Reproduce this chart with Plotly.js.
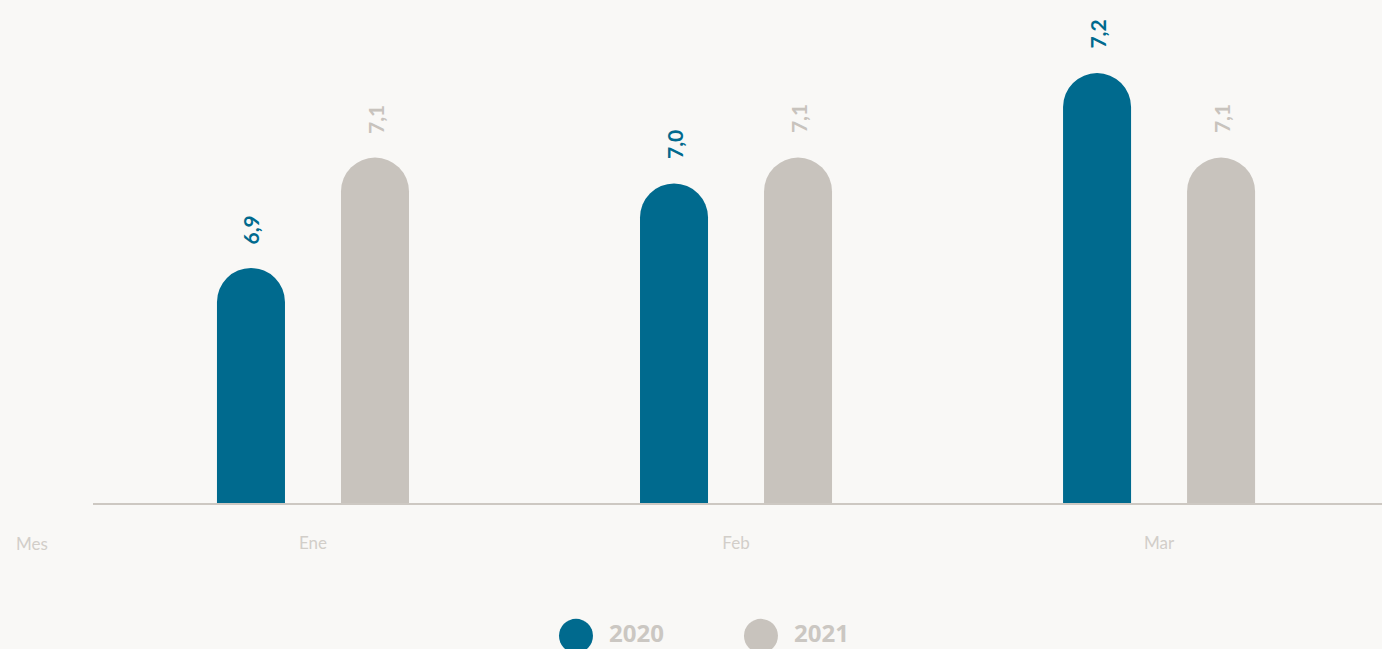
<!DOCTYPE html>
<html>
<head>
<meta charset="utf-8">
<script src="https://cdn.plot.ly/plotly-3.0.1.min.js"></script>
<style>
html,body{margin:0;padding:0;background:#f9f8f6;}
#chart{width:1382px;height:649px;}
</style>
</head>
<body>
<div id="chart"></div>
<script>
// Data
var categories = ["Ene", "Feb", "Mar"];
var seriesNames = ["2020", "2021"];
var values2020 = [6.89, 7.02, 7.19];
var values2021 = [7.06, 7.06, 7.06];
var axisTitle = "Mes";

var colors = ["#006a8e", "#c8c3bd"];
var textGray = "#d2cec9";

function fmt(v){ return v.toFixed(1).replace(".", ","); }

var series = [values2020, values2021];
var traces = series.map(function(vals, i){
  return {
    type: "bar",
    name: seriesNames[i],
    x: categories,
    y: vals,
    marker: {color: colors[i], cornerradius: 34, line: {width: 0}},
    hoverinfo: "x+y+name",
    showlegend: false
  };
});

var annotations = [];
var shifts = [-62, 62];
series.forEach(function(vals, i){
  vals.forEach(function(v, j){
    annotations.push({
      x: categories[j], y: v, xref: "x", yref: "y",
      text: fmt(v), showarrow: false, textangle: -90,
      xanchor: "center", yanchor: "bottom",
      xshift: shifts[i], yshift: 22,
      font: {family: "Lato, 'Open Sans', sans-serif", size: 21, color: colors[i], weight: 700}
    });
  });
});

annotations.push({
  x: -0.0613, y: -0.083, xref: "paper", yref: "paper",
  text: axisTitle, showarrow: false, xanchor: "left", yanchor: "middle",
  font: {family: "Lato, sans-serif", size: 17, color: textGray}
});

// manual legend
var legendX = [0.3747, 0.5182];
var legendY = -0.2671;
var shapes = [];
seriesNames.forEach(function(name, i){
  shapes.push({
    type: "circle", xref: "paper", yref: "paper",
    xsizemode: "pixel", ysizemode: "pixel",
    xanchor: legendX[i], yanchor: legendY - 0.008,
    x0: -17, x1: 17, y0: -17, y1: 17,
    fillcolor: colors[i], line: {width: 0}
  });
  annotations.push({
    x: legendX[i], y: legendY, xref: "paper", yref: "paper",
    xshift: 31, text: name, showarrow: false,
    xanchor: "left", yanchor: "middle",
    font: {family: "'Open Sans', Lato, sans-serif", size: 24, color: "#cbc7c2", weight: 700}
  });
});

var layout = {
  width: 1382, height: 649,
  paper_bgcolor: "#f9f8f6", plot_bgcolor: "#f9f8f6",
  margin: {l: 93, r: 0, t: 20, b: 146},
  barmode: "group",
  bargap: 0.4137,
  bargroupgap: 0.4516,
  showlegend: false,
  xaxis: {
    type: "category",
    range: [-0.52, 2.527],
    showline: true, linecolor: "#cdc8c2", linewidth: 2,
    showgrid: false, zeroline: false, ticks: "",
    ticklabelstandoff: 24,
    tickfont: {family: "Lato, sans-serif", size: 17, color: textGray},
    fixedrange: true
  },
  yaxis: {
    range: [6.5285, 7.2716],
    visible: false, showgrid: false, zeroline: false, fixedrange: true
  },
  annotations: annotations,
  shapes: shapes
};

Plotly.newPlot("chart", traces, layout, {displayModeBar: false, staticPlot: true});
</script>
</body>
</html>
